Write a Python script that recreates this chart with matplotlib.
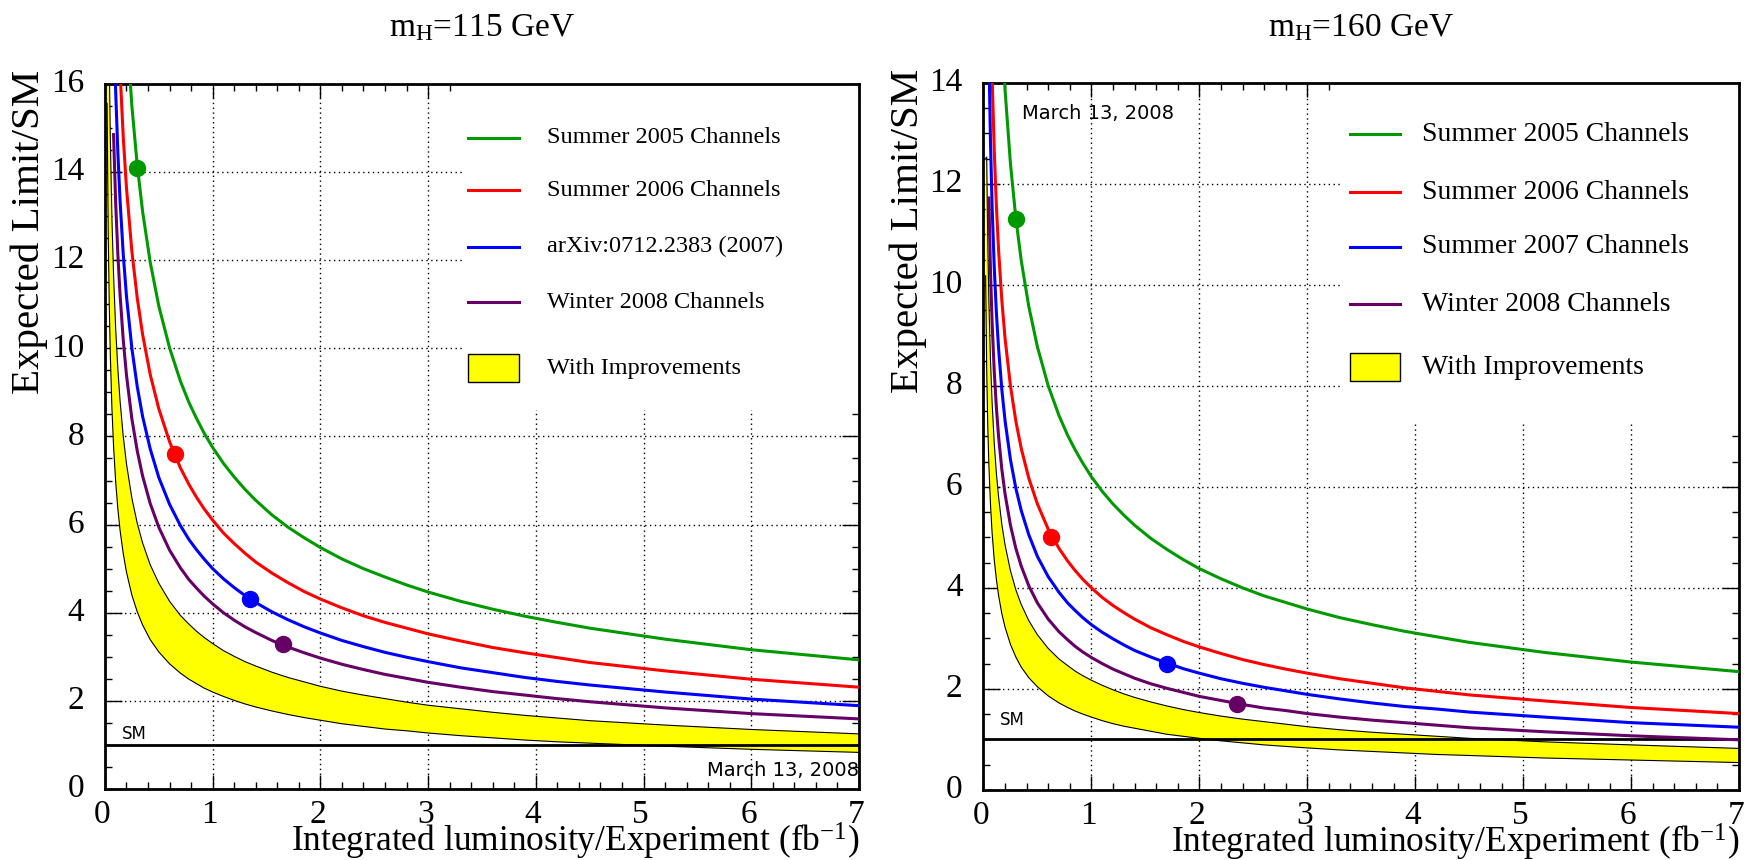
import numpy as np
import matplotlib
matplotlib.use('Agg')
import matplotlib.pyplot as plt
from matplotlib.ticker import MultipleLocator, NullFormatter
from matplotlib.patches import Rectangle
from matplotlib.transforms import offset_copy

plt.rcParams['font.family'] = ['Liberation Serif', 'DejaVu Serif']
plt.rcParams['mathtext.fontset'] = 'custom'
plt.rcParams['mathtext.rm'] = 'Liberation Serif'
plt.rcParams['mathtext.it'] = 'Liberation Serif:italic'

nan = np.nan

lumi = [0.02, 0.03, 0.04, 0.05, 0.065, 0.08, 0.1, 0.12, 0.14, 0.17,
        0.2, 0.25, 0.3, 0.35, 0.42, 0.5, 0.6, 0.7, 0.78, 0.85,
        0.92, 1.0, 1.1, 1.2, 1.3, 1.4, 1.55, 1.7, 1.85, 2.0,
        2.2, 2.4, 2.6, 2.8, 3.0, 3.3, 3.6, 3.9, 4.2, 4.5,
        5.2, 6.0, 7.0]

# mH = 115 GeV
green115 = [nan, nan, nan, nan, nan, nan, nan, nan, 20.72, 18.79,
            17.33, 15.50, 14.15, 13.10, 11.96, 10.96, 10.01, 9.26, 8.77, 8.41,
            8.08, 7.75, 7.39, 7.08, 6.80, 6.55, 6.22, 5.94, 5.70, 5.48,
            5.22, 5.00, 4.81, 4.63, 4.47, 4.26, 4.08, 3.92, 3.78, 3.65,
            3.40, 3.16, 2.93]
red115 = [nan, nan, nan, nan, nan, nan, 19.29, 17.61, 16.31, 14.79,
          13.64, 12.20, 11.14, 10.31, 9.41, 8.63, 7.88, 7.29, 6.91, 6.62,
          6.36, 6.10, 5.81, 5.57, 5.35, 5.15, 4.90, 4.68, 4.48, 4.31,
          4.11, 3.93, 3.78, 3.65, 3.52, 3.36, 3.21, 3.09, 2.98, 2.87,
          2.68, 2.49, 2.31]
blue115 = [nan, nan, nan, nan, nan, 17.68, 15.81, 14.44, 13.37, 12.13,
           11.18, 10.00, 9.13, 8.45, 7.72, 7.07, 6.46, 5.98, 5.66, 5.43,
           5.22, 5.00, 4.77, 4.57, 4.39, 4.23, 4.02, 3.84, 3.68, 3.54,
           3.37, 3.23, 3.10, 2.99, 2.89, 2.75, 2.64, 2.53, 2.44, 2.36,
           2.20, 2.04, 1.89]
purple115 = [nan, nan, nan, nan, nan, 14.85, 13.28, 12.13, 11.23, 10.19,
             9.39, 8.40, 7.67, 7.10, 6.48, 5.94, 5.42, 5.02, 4.75, 4.56,
             4.38, 4.20, 4.00, 3.83, 3.68, 3.55, 3.37, 3.22, 3.09, 2.97,
             2.83, 2.71, 2.60, 2.51, 2.42, 2.31, 2.21, 2.13, 2.05, 1.98,
             1.84, 1.71, 1.59]
band115_hi = [23.33, 19.05, 16.50, 14.76, 12.94, 11.67, 10.43, 9.53, 8.82, 8.00,
              7.38, 6.60, 6.03, 5.58, 5.09, 4.67, 4.26, 3.94, 3.74, 3.58,
              3.44, 3.30, 3.14, 3.01, 2.89, 2.79, 2.65, 2.53, 2.43, 2.33,
              2.22, 2.13, 2.05, 1.97, 1.90, 1.82, 1.74, 1.67, 1.61, 1.55,
              1.45, 1.35, 1.25]
band115_lo = [15.56, 12.70, 11.00, 9.84, 8.63, 7.78, 6.96, 6.35, 5.88, 5.34,
              4.92, 4.40, 4.02, 3.72, 3.39, 3.11, 2.84, 2.63, 2.49, 2.39,
              2.29, 2.20, 2.10, 2.01, 1.93, 1.86, 1.77, 1.69, 1.62, 1.56,
              1.48, 1.42, 1.36, 1.32, 1.27, 1.21, 1.16, 1.11, 1.07, 1.04,
              0.97, 0.90, 0.83]
dots115_x = [0.3, 0.65, 1.35, 1.65]
dots115_y = [14.1, 7.6, 4.3, 3.3]

# mH = 160 GeV
green160 = [nan, nan, nan, nan, nan, nan, nan, nan, 16.57, 15.04,
            13.86, 12.40, 11.32, 10.48, 9.57, 8.77, 8.00, 7.41, 7.02, 6.73,
            6.47, 6.20, 5.91, 5.66, 5.44, 5.24, 4.98, 4.76, 4.56, 4.38,
            4.18, 4.00, 3.84, 3.71, 3.58, 3.41, 3.27, 3.14, 3.03, 2.92,
            2.72, 2.53, 2.34]
red160 = [nan, nan, nan, 17.89, 15.69, 14.14, 12.65, 11.55, 10.69, 9.70,
          8.94, 8.00, 7.30, 6.76, 6.17, 5.66, 5.16, 4.78, 4.53, 4.34,
          4.17, 4.00, 3.81, 3.65, 3.51, 3.38, 3.21, 3.07, 2.94, 2.83,
          2.70, 2.58, 2.48, 2.39, 2.31, 2.20, 2.11, 2.02, 1.95, 1.88,
          1.76, 1.63, 1.51]
blue160 = [nan, 18.88, 16.35, 14.62, 12.83, 11.56, 10.34, 9.44, 8.74, 7.93,
           7.31, 6.54, 5.97, 5.53, 5.05, 4.62, 4.22, 3.91, 3.70, 3.55,
           3.41, 3.27, 3.12, 2.99, 2.87, 2.76, 2.63, 2.51, 2.40, 2.31,
           2.20, 2.11, 2.03, 1.96, 1.89, 1.80, 1.72, 1.65, 1.60, 1.54,
           1.44, 1.33, 1.24]
purple160 = [nan, nan, nan, 11.72, 10.28, 9.26, 8.28, 7.56, 7.00, 6.35,
             5.86, 5.24, 4.78, 4.43, 4.04, 3.70, 3.38, 3.13, 2.97, 2.84,
             2.73, 2.62, 2.50, 2.39, 2.30, 2.21, 2.10, 2.01, 1.93, 1.85,
             1.77, 1.69, 1.62, 1.57, 1.51, 1.44, 1.38, 1.33, 1.28, 1.23,
             1.15, 1.07, 0.99]
band160_hi = [12.50, 12.53, 10.85, 9.70, 8.51, 7.67, 6.86, 6.26, 5.80, 5.26,
              4.85, 4.34, 3.96, 3.67, 3.35, 3.07, 2.80, 2.59, 2.46, 2.35,
              2.26, 2.17, 2.07, 1.98, 1.90, 1.83, 1.74, 1.66, 1.59, 1.53,
              1.46, 1.40, 1.35, 1.30, 1.25, 1.19, 1.14, 1.10, 1.06, 1.02,
              0.95, 0.89, 0.82]
band160_lo = [10.18, 8.31, 7.20, 6.44, 5.65, 5.09, 4.55, 4.16, 3.85, 3.49,
              3.22, 2.88, 2.63, 2.43, 2.22, 2.04, 1.86, 1.72, 1.63, 1.56,
              1.50, 1.44, 1.37, 1.31, 1.26, 1.22, 1.16, 1.10, 1.06, 1.02,
              0.97, 0.93, 0.89, 0.86, 0.83, 0.79, 0.76, 0.73, 0.70, 0.68,
              0.63, 0.59, 0.54]
dots160_x = [0.3, 0.63, 1.7, 2.35]
dots160_y = [11.3, 5.0, 2.5, 1.7]

labels115 = ['Summer 2005 Channels', 'Summer 2006 Channels', 'arXiv:0712.2383 (2007)',
             'Winter 2008 Channels', 'With Improvements']
labels160 = ['Summer 2005 Channels', 'Summer 2006 Channels', 'Summer 2007 Channels',
             'Winter 2008 Channels', 'With Improvements']
xticks = [0, 1, 2, 3, 4, 5, 6, 7]
colors = ['#009a00', '#ff0000', '#0000ff', '#660066']
sm_level = 1.0

fig = plt.figure(figsize=(17.49, 8.6), dpi=100)


def panel(ax, ymax, curves, dx, dy, hi, lo, labels, leg, fs, box, sm_y):
    ax.set_xlim(0, 7)
    ax.set_ylim(0, ymax)
    ax.set_axisbelow(True)
    ax.grid(True, which='major', color='black', linestyle=(0, (1, 2.5)), linewidth=1.0)
    yt = list(range(0, ymax + 1, 2))
    ax.set_xticks(xticks)
    ax.set_yticks(yt)
    ax.xaxis.set_major_formatter(NullFormatter())
    ax.yaxis.set_major_formatter(NullFormatter())
    ax.xaxis.set_minor_locator(MultipleLocator(0.2))
    ax.yaxis.set_minor_locator(MultipleLocator(0.5))
    ax.tick_params(which='both', direction='in', top=True, right=True, width=1.0)
    ax.tick_params(axis='x', which='major', length=10)
    ax.tick_params(axis='y', which='major', length=12)
    ax.tick_params(which='minor', length=5)
    for s in ax.spines.values():
        s.set_linewidth(2.0)

    # tick labels in the Times-like face of the original
    ytr = offset_copy(ax.get_yaxis_transform(), fig=fig, x=-15, y=0, units='points')
    for v in yt:
        ax.text(0, v, str(v), transform=ytr, ha='right', va='center', fontsize=24)
    xtr = offset_copy(ax.get_xaxis_transform(), fig=fig, x=-2, y=-7.5, units='points')
    for v in xticks:
        ax.text(v, 0, str(v), transform=xtr, ha='center', va='top', fontsize=24)

    # white legend area hides the grid
    ax.add_patch(Rectangle((box[0], box[1]), 1 - box[0], 1 - box[1], transform=ax.transAxes,
                           facecolor='white', edgecolor='none', zorder=0.8))

    ax.fill_between(lumi, lo, hi, facecolor='#ffff00', edgecolor='none', zorder=1)
    ax.plot(lumi, hi, color='black', lw=0.8, zorder=1.2)
    ax.plot(lumi, lo, color='black', lw=0.8, zorder=1.2)
    ax.axhline(sm_level, color='black', lw=2.0, zorder=2)

    for y, c in zip(curves, colors):
        ax.plot(lumi, y, color=c, lw=2.2, zorder=3)
    for x, y, c in zip(dx, dy, colors):
        ax.plot(x, y, 'o', color=c, ms=11.5, zorder=4)

    # legend drawn by hand
    lx0, lx1, tx, ys = leg
    for i, lab in enumerate(labels):
        if i < 4:
            ax.plot([lx0, lx1], [ys[i], ys[i]], color=colors[i], lw=2.2,
                    transform=ax.transAxes, zorder=5)
        else:
            ax.add_patch(Rectangle((lx0, ys[i] - 0.02), lx1 - lx0, 0.04, transform=ax.transAxes,
                                   facecolor='#ffff00', edgecolor='black', lw=1.0, zorder=5))
        ax.text(tx, ys[i], lab, transform=ax.transAxes, fontsize=fs, va='center', ha='left', zorder=5)

    ax.text(0.155, sm_y, 'SM', fontsize=12, family='DejaVu Sans', va='center', ha='left')
    ax.text(1.0, -0.089, 'Integrated luminosity/Experiment (fb$^{\\mathregular{-1}}$)',
            transform=ax.transAxes, ha='right', va='baseline', fontsize=25.5)
    ax.text(-0.10, 1.02, 'Expected Limit/SM', transform=ax.transAxes, rotation=90,
            ha='center', va='top', fontsize=29.5)


ax1 = fig.add_axes([0.0600, 0.0826, 0.4311, 0.8198])
ax2 = fig.add_axes([0.5623, 0.0816, 0.4320, 0.8221])

panel(ax1, 16, [green115, red115, blue115, purple115], dots115_x, dots115_y,
      band115_hi, band115_lo, labels115,
      (0.481, 0.549, 0.586, [0.924, 0.849, 0.769, 0.690, 0.597]), 17.5, (0.477, 0.538), 1.25)
panel(ax2, 14, [green160, red160, blue160, purple160], dots160_x, dots160_y,
      band160_hi, band160_lo, labels160,
      (0.485, 0.551, 0.580, [0.927, 0.845, 0.768, 0.687, 0.598]), 20, (0.476, 0.519), 1.38)

ax1.text(7.0, 0.43, 'March 13, 2008', fontsize=14, family='DejaVu Sans', ha='right', va='center')
ax2.text(0.36, 13.4, 'March 13, 2008', fontsize=14, family='DejaVu Sans', ha='left', va='center')

fig.text(482 / 1749, 1 - 36 / 860, 'm$_{\\mathregular{H}}$=115 GeV', ha='center', va='baseline', fontsize=24)
fig.text(1361 / 1749, 1 - 36 / 860, 'm$_{\\mathregular{H}}$=160 GeV', ha='center', va='baseline', fontsize=24)

fig.savefig('out.png', dpi=100)
